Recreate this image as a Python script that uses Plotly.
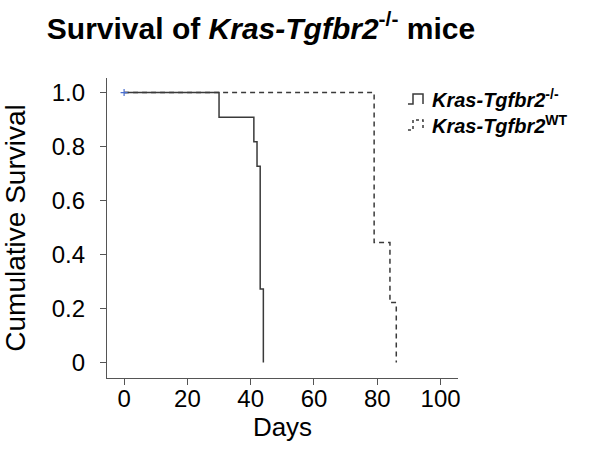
import plotly.graph_objects as go

# Kaplan-Meier steps
ko_days = [0, 30, 41, 42, 43, 44]
ko_surv = [1.0, 10 / 11, 9 / 11, 8 / 11, 3 / 11, 0.0]

wt_days = [0, 79, 84, 86]
wt_surv = [1.0, 4 / 9, 2 / 9, 0.0]

censor_days = [0]
censor_surv = [1.0]

x_ticks = [0, 20, 40, 60, 80, 100]
y_ticks = [0, 0.2, 0.4, 0.6, 0.8, 1.0]
y_ticktext = ["0", "0.2", "0.4", "0.6", "0.8", "1.0"]

FONT = "Liberation Sans, Arial, Helvetica, sans-serif"
LINE = "#3a3a3a"
AXIS = "#555555"

W, H = 602, 452
# plot area in pixels (for placing the hand-made legend)
L, R, T, B = 107, 458, 78, 378


def px(x):
    return (x - L) / (R - L)


def py(y):
    return (B - y) / (B - T)


fig = go.Figure()
fig.add_trace(go.Scatter(
    x=ko_days, y=ko_surv, mode="lines", line_shape="hv",
    line=dict(color=LINE, width=1.5), showlegend=False,
))
fig.add_trace(go.Scatter(
    x=wt_days, y=wt_surv, mode="lines", line_shape="hv",
    line=dict(color=LINE, width=1.5, dash="5px,4px"), showlegend=False,
))
fig.add_trace(go.Scatter(
    x=censor_days, y=censor_surv, mode="markers",
    marker=dict(symbol="cross-thin", size=5, line=dict(color="#4a6fd0", width=1.2)),
    showlegend=False,
))

# legend icons (step glyphs) and labels
def step_icon(y0, dash):
    xs = [408, 413, 413, 423, 423]
    ys = [y0 + 10, y0 + 10, y0, y0, y0 + 10]
    path = "M " + " L ".join(f"{px(a):.4f},{py(b):.4f}" for a, b in zip(xs, ys))
    fig.add_shape(type="path", path=path, xref="paper", yref="paper",
                  line=dict(color=LINE, width=1.5, dash=dash))


step_icon(94, "solid")
step_icon(120, "3px,3px")

legend_labels = ["<b><i>Kras-Tgfbr2</i><sup>-/-</sup></b>",
                 "<b><i>Kras-Tgfbr2</i><sup>WT</sup></b>"]
for i, lab in enumerate(legend_labels):
    fig.add_annotation(
        text=lab, xref="paper", yref="paper", x=px(430), y=py(99 + 26 * i),
        xanchor="left", yanchor="middle", showarrow=False,
        font=dict(family=FONT, size=20, color="black"),
    )

fig.update_layout(
    width=W, height=H,
    paper_bgcolor="white", plot_bgcolor="white",
    margin=dict(l=L, r=W - R, t=T, b=H - B),
    font=dict(family=FONT, color="black"),
    title=dict(
        text="<b>Survival of <i>Kras-Tgfbr2</i><sup>-/-</sup> mice</b>",
        x=261 / W, xanchor="center", y=1 - 28 / H, yanchor="middle",
        font=dict(family=FONT, size=30, color="black"),
    ),
    xaxis=dict(
        range=[-5.4, 105.5], tickvals=x_ticks, showgrid=False, zeroline=False,
        showline=True, linecolor=AXIS, linewidth=1.2, automargin=False,
        ticks="outside", ticklen=6, tickcolor=AXIS,
        tickfont=dict(size=24), ticklabelstandoff=-7,
        title=dict(text="Days", font=dict(size=26), standoff=3),
    ),
    yaxis=dict(
        range=[-0.057, 1.054], tickvals=y_ticks, ticktext=y_ticktext,
        showgrid=False, zeroline=False, automargin=False,
        showline=True, linecolor=AXIS, linewidth=1.2,
        ticks="outside", ticklen=6, tickcolor=AXIS,
        tickfont=dict(size=24), ticklabelstandoff=10,
        title=dict(text="Cumulative Survival", font=dict(size=28), standoff=34),
    ),
)

# drop the default 8px page margin so the figure fills the window exactly
fig.write_html(
    "out.html",
    config={"displayModeBar": False},
    post_script="document.body.style.margin = '0';",
)
